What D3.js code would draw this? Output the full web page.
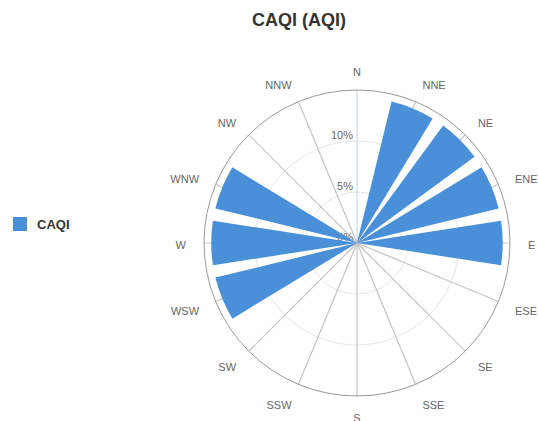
<!DOCTYPE html>
<html>
<head>
<meta charset="utf-8">
<script src="https://cdn.jsdelivr.net/npm/d3@7"></script>
<style>
  body { margin: 0; background: #fff; }
  text { font-family: "Liberation Sans", Arial, sans-serif; }
</style>
</head>
<body>
<script>
// Chart data
const directions = ["N", "NNE", "NE", "ENE", "E", "ESE", "SE", "SSE",
                    "S", "SSW", "SW", "WSW", "W", "WNW", "NW", "NNW"];
const caqiValues = [0, 14.29, 14.29, 14.29, 14.29, 0, 0, 0,
                    0, 0, 0, 14.29, 14.29, 14.29, 0, 0];
const radialTicks = [0, 5, 10];
const seriesName = "CAQI";
const chartTitle = "CAQI (AQI)";

// Layout
const WIDTH = 538;
const HEIGHT = 421;
const CX = 357;
const CY = 243;
const RADIUS = 153;
const BAR_COLOR = "#4a90d9";

var svg = d3.select("body").append("svg")
  .attr("width", WIDTH)
  .attr("height", HEIGHT);

var r = d3.scaleLinear().domain([0, 15]).range([0, RADIUS]);
var angle = d3.scaleBand().domain(directions).range([0, 2 * Math.PI]);
var step = angle.bandwidth();

// angle of the direction itself (bars are centered on it)
var dirAngle = function(d) { return angle(d); };

var plot = svg.append("g").attr("transform", "translate(" + CX + "," + CY + ")");

// Circular grid lines
plot.selectAll("circle.grid")
  .data(radialTicks.filter(t => t > 0))
  .enter().append("circle")
  .attr("class", "grid")
  .attr("r", d => r(d))
  .attr("fill", "none")
  .attr("stroke", "#e6e6e6");

// Spokes
plot.selectAll("line.spoke")
  .data(directions)
  .enter().append("line")
  .attr("class", "spoke")
  .attr("x1", 0).attr("y1", 0)
  .attr("x2", d => RADIUS * Math.sin(dirAngle(d)))
  .attr("y2", d => -RADIUS * Math.cos(dirAngle(d)))
  .attr("stroke", d => d === "N" ? "#ccd6eb" : "#c4c4c4")
  .attr("stroke-width", 1.2);

// Outer circle
plot.append("circle")
  .attr("r", RADIUS)
  .attr("fill", "none")
  .attr("stroke", "#999999");

// Y axis labels
plot.selectAll("text.ylab")
  .data(radialTicks)
  .enter().append("text")
  .attr("class", "ylab")
  .attr("x", -4)
  .attr("y", d => -r(d) - 2)
  .attr("text-anchor", "end")
  .attr("font-size", 11)
  .attr("fill", "#666")
  .text(d => d + "%");

// Bars
var arc = d3.arc()
  .innerRadius(0)
  .outerRadius(d => r(d.value))
  .startAngle(d => dirAngle(d.dir) - step * 0.39)
  .endAngle(d => dirAngle(d.dir) + step * 0.39);

plot.selectAll("path.bar")
  .data(directions.map((d, i) => ({dir: d, value: caqiValues[i]})).filter(d => d.value > 0))
  .enter().append("path")
  .attr("class", "bar")
  .attr("d", arc)
  .attr("fill", BAR_COLOR);

// Direction labels
const LABEL_R = 171;
plot.selectAll("text.dir")
  .data(directions)
  .enter().append("text")
  .attr("class", "dir")
  .attr("x", d => LABEL_R * Math.sin(dirAngle(d)))
  .attr("y", d => -LABEL_R * Math.cos(dirAngle(d)) + 5 - 2 * Math.cos(dirAngle(d)) + 1)
  .attr("text-anchor", d => {
    let s = Math.sin(dirAngle(d));
    if (s > 0.2) return "start";
    if (s < -0.2) return "end";
    return "middle";
  })
  .attr("font-size", 11)
  .attr("fill", "#666")
  .text(d => d);

// Title
svg.append("text")
  .attr("x", 299)
  .attr("y", 26)
  .attr("text-anchor", "middle")
  .attr("font-size", 18)
  .attr("font-weight", "bold")
  .attr("fill", "#333")
  .text(chartTitle);

// Legend
svg.append("rect")
  .attr("x", 13).attr("y", 217)
  .attr("width", 14).attr("height", 14)
  .attr("fill", BAR_COLOR);
svg.append("text")
  .attr("x", 37).attr("y", 229)
  .attr("font-size", 13)
  .attr("font-weight", "bold")
  .attr("fill", "#333")
  .text(seriesName);
</script>
</body>
</html>
